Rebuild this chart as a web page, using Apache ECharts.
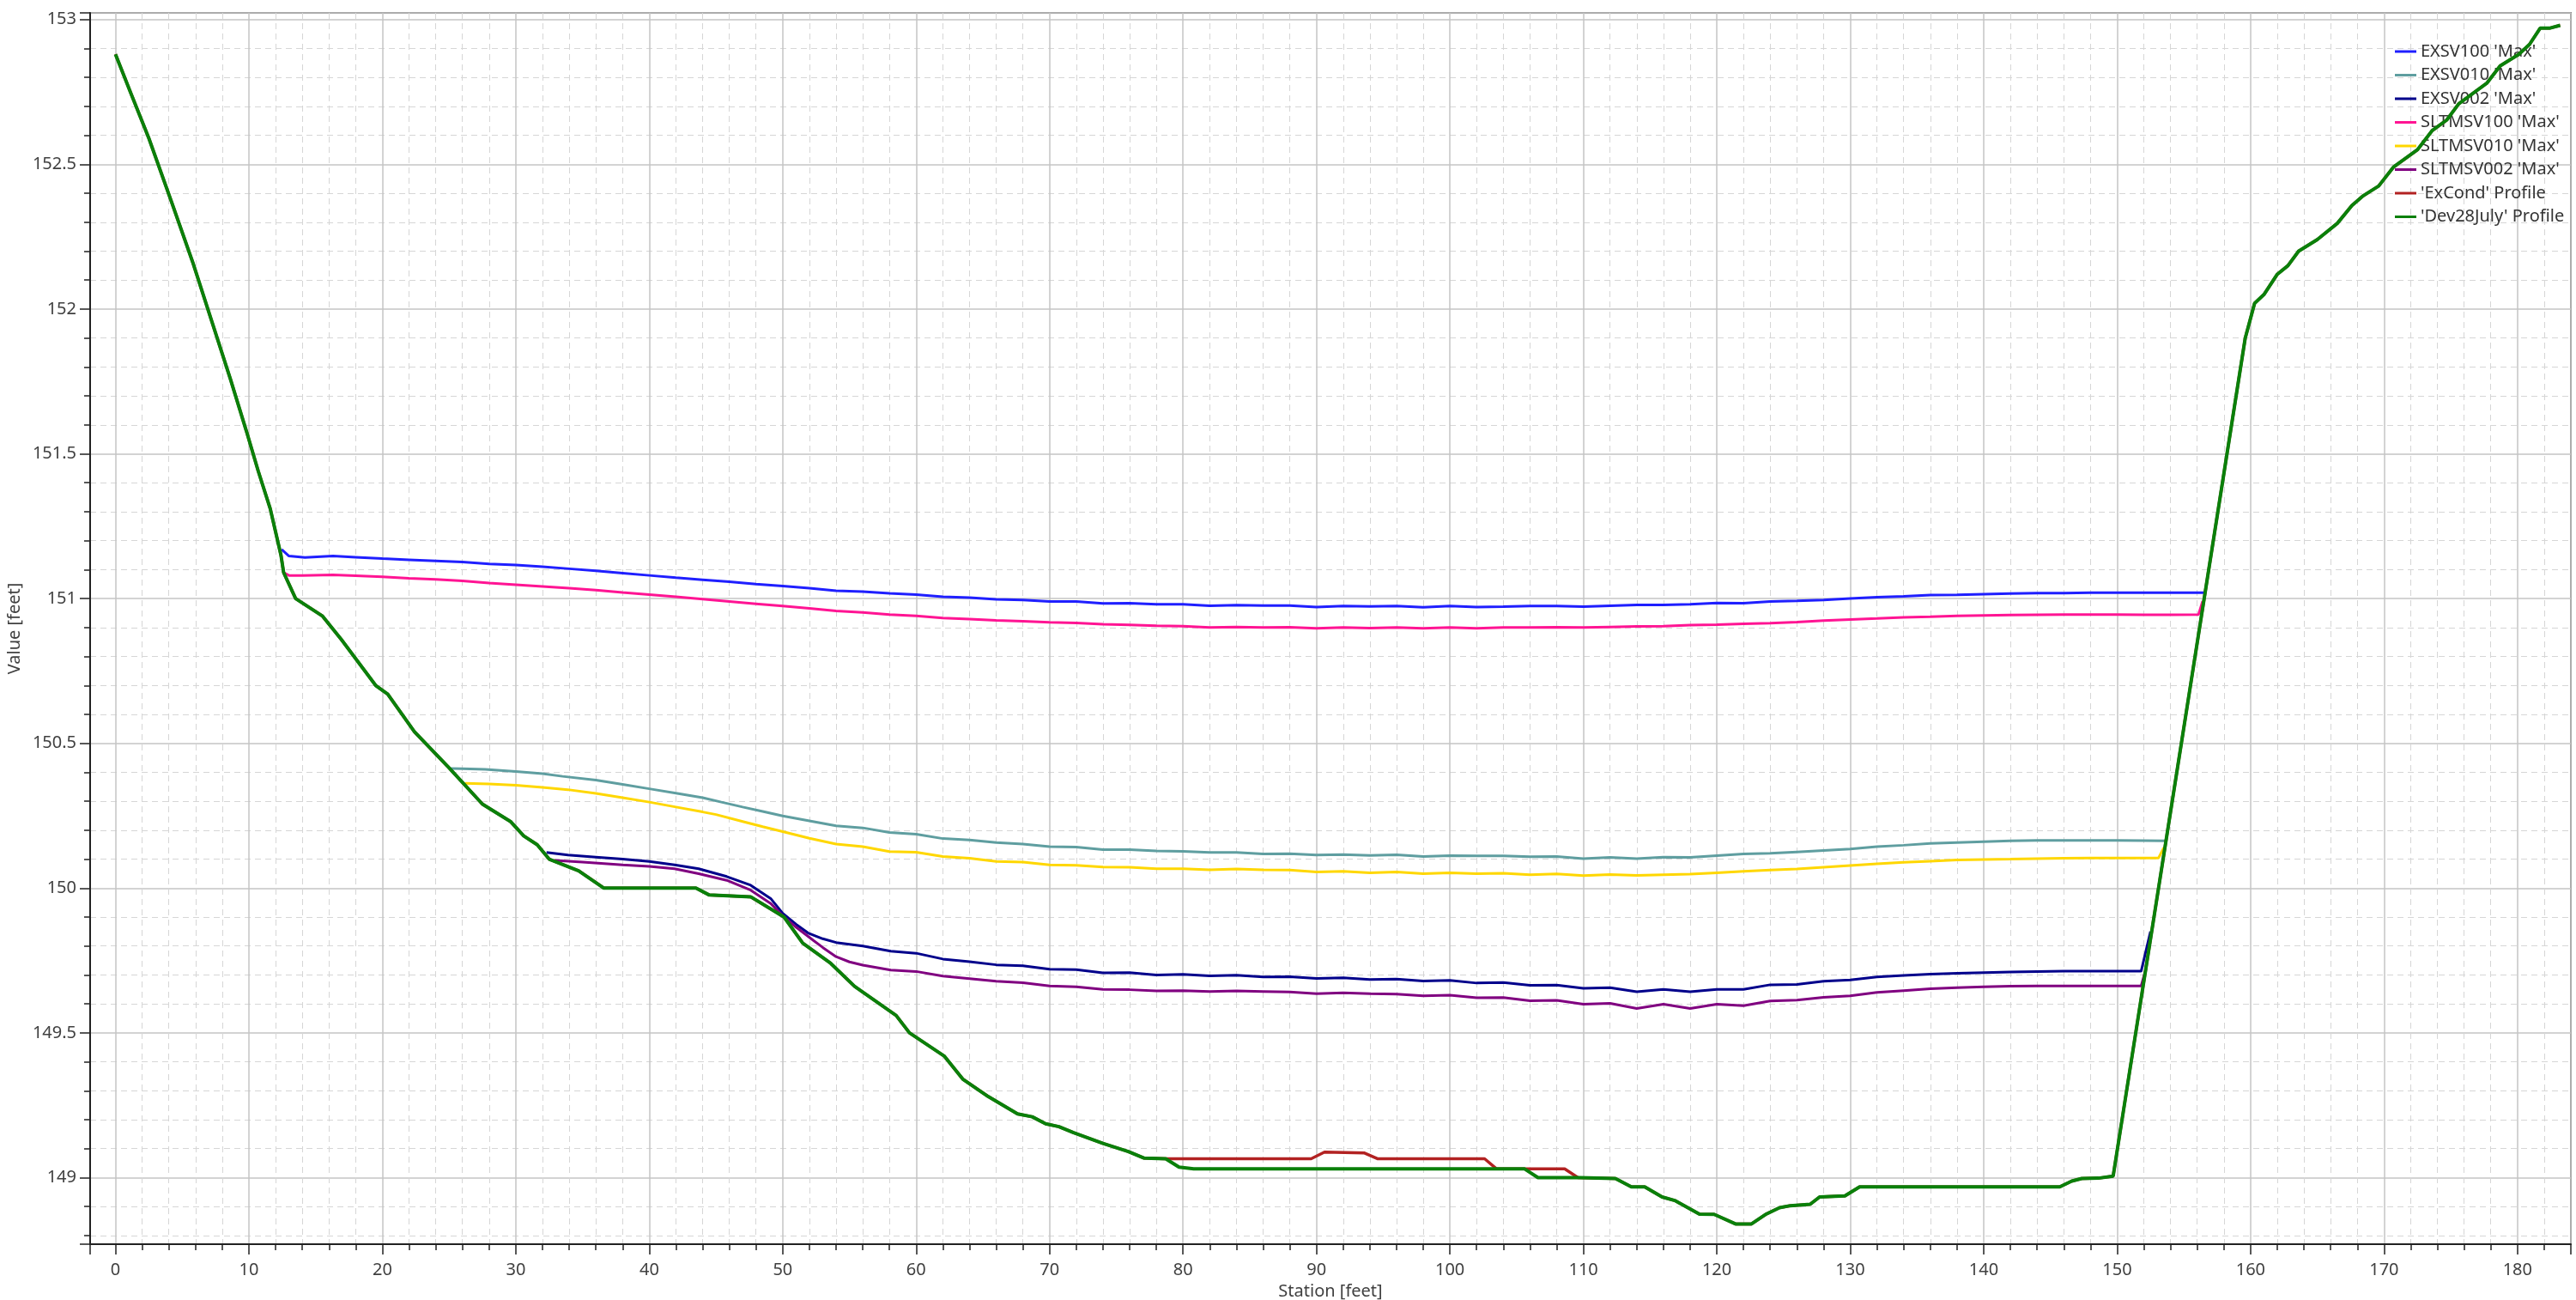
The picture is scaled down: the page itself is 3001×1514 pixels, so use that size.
<!DOCTYPE html>
<html>
<head>
<meta charset="utf-8">
<script src="https://cdn.jsdelivr.net/npm/echarts/dist/echarts.min.js"></script>
<style>
  html, body { margin: 0; padding: 0; background: #ffffff; }
  #chart { width: 3001px; height: 1514px; }
</style>
</head>
<body>
<div id="chart"></div>
<script>
// ---- data (station [ft], value [ft]) ----
const seriesNames = ["EXSV100 'Max'", "EXSV010 'Max'", "EXSV002 'Max'", "SLTMSV100 'Max'", "SLTMSV010 'Max'", "SLTMSV002 'Max'", "'ExCond' Profile", "'Dev28July' Profile"];

const exsv100 = [[12.45,151.17],[13,151.147],[14.2,151.142],[16.3,151.147],[18,151.143],[20,151.138],[22,151.134],[24,151.13],[26,151.126],[28,151.12],[30,151.116],[32,151.11],[34,151.103],[36,151.096],[38,151.088],[40,151.08],[42,151.072],[44,151.065],[46,151.058],[48,151.05],[50,151.043],[52,151.036],[54,151.027],[56,151.024],[58,151.018],[60,151.014],[62,151.006],[64,151.003],[66,150.997],[68,150.995],[70,150.99],[72,150.99],[74,150.983],[76,150.984],[78,150.98],[80,150.98],[82,150.975],[84,150.977],[86,150.976],[88,150.976],[90,150.971],[92,150.974],[94,150.973],[96,150.974],[98,150.970],[100,150.974],[102,150.971],[104,150.972],[106,150.974],[108,150.974],[110,150.972],[112,150.975],[114,150.978],[116,150.978],[118,150.98],[120,150.985],[122,150.984],[124,150.99],[126,150.992],[128,150.995],[130,151.0],[132,151.005],[134,151.008],[136,151.012],[138,151.013],[140,151.015],[142,151.017],[144,151.019],[146,151.019],[148,151.02],[150,151.02],[152,151.02],[154,151.02],[156.6,151.02]];

const exsv010 = [[25.1,150.413],[26,150.412],[27.7,150.41],[30,150.403],[32,150.395],[33.5,150.386],[36,150.373],[38,150.358],[40,150.343],[42,150.328],[44,150.312],[45.4,150.297],[47,150.28],[48.5,150.265],[50,150.249],[52,150.232],[54,150.215],[56,150.208],[58,150.192],[60,150.186],[62,150.171],[64,150.166],[66,150.157],[68,150.152],[70,150.143],[72,150.142],[74,150.133],[76,150.133],[78,150.128],[80,150.127],[82,150.123],[84,150.123],[86,150.118],[88,150.119],[90,150.114],[92,150.116],[94,150.113],[96,150.115],[98,150.109],[100,150.112],[102,150.111],[104,150.111],[106,150.108],[108,150.109],[110,150.102],[112,150.106],[114,150.102],[116,150.107],[118,150.106],[120,150.112],[122,150.118],[124,150.12],[126,150.125],[128,150.13],[130,150.135],[132,150.143],[134,150.148],[136,150.154],[138,150.157],[140,150.16],[142,150.163],[144,150.165],[146,150.165],[148,150.165],[150,150.165],[152,150.164],[153.6,150.163]];

const exsv002 = [[32.3,150.123],[33.9,150.114],[36,150.107],[38,150.1],[40,150.092],[41.9,150.08],[43.7,150.067],[45.8,150.04],[47.6,150.01],[49.1,149.964],[50,149.913],[51,149.875],[51.9,149.845],[53,149.825],[54,149.812],[56,149.8],[58.1,149.782],[60,149.775],[62,149.755],[64,149.746],[66,149.735],[68,149.732],[70,149.72],[72,149.718],[74,149.707],[76,149.708],[78,149.70],[80,149.702],[82,149.697],[84,149.699],[86,149.693],[88,149.694],[90,149.688],[92,149.69],[94,149.684],[96,149.686],[98,149.679],[100,149.681],[102,149.672],[104,149.674],[106,149.664],[108,149.665],[110,149.654],[112,149.656],[114,149.642],[116,149.65],[118,149.642],[120,149.65],[122,149.65],[124,149.666],[126,149.667],[128,149.678],[130,149.683],[132,149.693],[134,149.698],[136,149.703],[138,149.706],[140,149.708],[142,149.71],[144,149.712],[146,149.713],[148,149.713],[150,149.713],[151.8,149.713],[152.5,149.85]];

const sltmsv100 = [[12.6,151.09],[13,151.08],[14,151.08],[16.3,151.082],[18,151.079],[20,151.075],[22,151.07],[24,151.066],[26,151.061],[28,151.054],[30,151.048],[32,151.042],[34,151.036],[36,151.029],[38,151.021],[40,151.014],[42,151.006],[44,150.998],[46,150.99],[48,150.982],[50,150.974],[52,150.966],[54,150.957],[56,150.952],[58,150.945],[60,150.94],[62,150.933],[64,150.929],[66,150.925],[68,150.922],[70,150.918],[72,150.916],[74,150.911],[76,150.909],[78,150.906],[80,150.905],[82,150.90],[84,150.902],[86,150.90],[88,150.901],[90,150.897],[92,150.9],[94,150.898],[96,150.9],[98,150.897],[100,150.9],[102,150.897],[104,150.9],[106,150.9],[108,150.901],[110,150.9],[112,150.902],[114,150.904],[116,150.905],[118,150.908],[120,150.91],[122,150.913],[124,150.915],[126,150.919],[128,150.924],[130,150.928],[132,150.931],[134,150.935],[136,150.937],[138,150.94],[140,150.942],[142,150.943],[144,150.944],[146,150.945],[148,150.945],[150,150.945],[152,150.944],[154,150.944],[156.1,150.945],[156.4,150.99]];

const sltmsv010 = [[26.2,150.362],[28,150.36],[30,150.355],[32,150.348],[33.9,150.34],[36,150.327],[38,150.312],[40,150.297],[42,150.28],[44,150.263],[45,150.254],[47,150.23],[48.5,150.212],[50,150.195],[52,150.172],[54,150.152],[56,150.143],[58,150.126],[60,150.124],[62,150.109],[64,150.103],[66,150.092],[68,150.09],[70,150.08],[72,150.079],[74,150.073],[76,150.072],[78,150.067],[80,150.067],[82,150.063],[84,150.066],[86,150.063],[88,150.062],[90,150.056],[92,150.058],[94,150.053],[96,150.056],[98,150.05],[100,150.053],[102,150.05],[104,150.051],[106,150.046],[108,150.049],[110,150.043],[112,150.047],[114,150.044],[116,150.046],[118,150.048],[120,150.053],[122,150.058],[124,150.062],[126,150.066],[128,150.072],[130,150.078],[132,150.084],[134,150.089],[136,150.093],[138,150.097],[140,150.099],[142,150.1],[144,150.102],[146,150.103],[148,150.104],[150,150.104],[152,150.104],[153.1,150.104],[153.5,150.14]];

const sltmsv002 = [[32.9,150.096],[35,150.09],[38,150.08],[40,150.075],[41.9,150.067],[43.7,150.05],[45.8,150.027],[47.6,149.993],[49.1,149.947],[50,149.904],[51,149.865],[52.3,149.819],[53,149.795],[54,149.763],[55,149.745],[56,149.734],[58.1,149.717],[60,149.712],[62,149.696],[64,149.687],[66,149.678],[68,149.673],[70,149.662],[72,149.659],[74,149.65],[76,149.649],[78,149.645],[80,149.646],[82,149.643],[84,149.645],[86,149.643],[88,149.641],[90,149.635],[92,149.638],[94,149.635],[96,149.634],[98,149.628],[100,149.63],[102,149.621],[104,149.622],[106,149.611],[108,149.612],[110,149.599],[112,149.602],[114,149.584],[116,149.599],[118,149.584],[120,149.599],[122,149.594],[124,149.61],[126,149.613],[128,149.623],[130,149.628],[132,149.64],[134,149.646],[136,149.652],[138,149.656],[140,149.659],[142,149.661],[144,149.662],[146,149.662],[148,149.662],[150,149.662],[151.8,149.662],[152.15,149.72]];

const exCondProfile = [[0,152.88],[1.2,152.74],[2.5,152.59],[4.2,152.37],[5.8,152.16],[7.2,151.96],[8.6,151.76],[9.8,151.58],[10.7,151.44],[11.6,151.31],[12.4,151.15],[12.6,151.09],[13.5,151.0],[15.5,150.94],[16.9,150.86],[19.5,150.70],[20.4,150.67],[22.4,150.54],[24.9,150.42],[26.1,150.36],[27.5,150.29],[29.6,150.23],[30.6,150.18],[31.6,150.15],[32.5,150.10],[34.7,150.06],[36.6,150.0],[43.5,150.0],[44.5,149.976],[47.6,149.97],[50.1,149.90],[51.5,149.81],[53.6,149.74],[55.4,149.66],[58.5,149.56],[59.5,149.5],[62.1,149.42],[63.5,149.34],[65.4,149.28],[67.6,149.22],[68.7,149.21],[69.7,149.186],[70.7,149.176],[71.8,149.155],[74,149.118],[75.9,149.09],[77.1,149.067],[78.7,149.065],[89.6,149.065],[90.6,149.088],[93.6,149.085],[94.6,149.065],[102.6,149.065],[103.5,149.03],[108.6,149.03],[109.6,149.0],[112.4,148.997],[113.6,148.968],[114.6,148.968],[115.9,148.933],[116.9,148.92],[118.7,148.874],[119.8,148.873],[121.4,148.84],[122.6,148.84],[123.7,148.874],[124.7,148.896],[125.5,148.903],[127,148.908],[127.7,148.933],[129.6,148.937],[130.7,148.968],[145.7,148.968],[146.6,148.988],[147.35,148.997],[148.6,148.998],[149.7,149.005],[159.6,151.9],[160.3,152.02],[161,152.05],[162,152.12],[162.8,152.15],[163.6,152.2],[165,152.24],[166.5,152.296],[167.6,152.358],[168.4,152.39],[169.6,152.425],[170.7,152.49],[172.5,152.55],[173.6,152.616],[174.7,152.653],[175.6,152.709],[177.7,152.78],[178.7,152.84],[180.1,152.88],[180.9,152.914],[181.7,152.97],[182.4,152.97],[183.2,152.98]];

const dev28JulyProfile = [[0,152.88],[1.2,152.74],[2.5,152.59],[4.2,152.37],[5.8,152.16],[7.2,151.96],[8.6,151.76],[9.8,151.58],[10.7,151.44],[11.6,151.31],[12.4,151.15],[12.6,151.09],[13.5,151.0],[15.5,150.94],[16.9,150.86],[19.5,150.70],[20.4,150.67],[22.4,150.54],[24.9,150.42],[26.1,150.36],[27.5,150.29],[29.6,150.23],[30.6,150.18],[31.6,150.15],[32.5,150.10],[34.7,150.06],[36.6,150.0],[43.5,150.0],[44.5,149.976],[47.6,149.97],[50.1,149.90],[51.5,149.81],[53.6,149.74],[55.4,149.66],[58.5,149.56],[59.5,149.5],[62.1,149.42],[63.5,149.34],[65.4,149.28],[67.6,149.22],[68.7,149.21],[69.7,149.186],[70.7,149.176],[71.8,149.155],[74,149.118],[75.9,149.09],[77.1,149.067],[78.7,149.065],[79.7,149.036],[80.8,149.03],[105.6,149.03],[106.6,149.0],[109.7,149.0],[112.4,148.997],[113.6,148.968],[114.6,148.968],[115.9,148.933],[116.9,148.92],[118.7,148.874],[119.8,148.873],[121.4,148.84],[122.6,148.84],[123.7,148.874],[124.7,148.896],[125.5,148.903],[127,148.908],[127.7,148.933],[129.6,148.937],[130.7,148.968],[145.7,148.968],[146.6,148.988],[147.35,148.997],[148.6,148.998],[149.7,149.005],[159.6,151.9],[160.3,152.02],[161,152.05],[162,152.12],[162.8,152.15],[163.6,152.2],[165,152.24],[166.5,152.296],[167.6,152.358],[168.4,152.39],[169.6,152.425],[170.7,152.49],[172.5,152.55],[173.6,152.616],[174.7,152.653],[175.6,152.709],[177.7,152.78],[178.7,152.84],[180.1,152.88],[180.9,152.914],[181.7,152.97],[182.4,152.97],[183.2,152.98]];

const seriesData = [exsv100, exsv010, exsv002, sltmsv100, sltmsv010, sltmsv002, exCondProfile, dev28JulyProfile];
const seriesColors = ['#1f1fff', '#5f9ea0', '#00008b', '#ff1493', '#ffd700', '#800080', '#b22222', '#0a800a'];
const seriesWidths = [3, 3, 3, 3, 3, 3, 3.5, 4];

const xAxisName = 'Station [feet]';
const yAxisName = 'Value [feet]';
const xRange = [-1.9, 184.0];
const yRange = [148.77, 153.023];

const FONT = "'Noto Sans', 'Open Sans', sans-serif";
const chart = echarts.init(document.getElementById('chart'), null, { renderer: 'canvas' });

const axisCommon = {
  type: 'value',
  scale: true,
  nameLocation: 'middle',
  nameTextStyle: { fontFamily: FONT, fontSize: 20, color: '#404040' },
  axisLine: { show: true, onZero: false, lineStyle: { color: '#222', width: 2 } },
  axisTick: { show: true, inside: false, length: 12, lineStyle: { color: '#222', width: 1.5 } },
  minorTick: { show: true, splitNumber: 5, length: 7, lineStyle: { color: '#222', width: 1.5 } },
  axisLabel: { fontFamily: FONT, fontSize: 20, color: '#404040', showMinLabel: false, showMaxLabel: false },
  splitLine: { show: true, lineStyle: { color: '#c4c4c4', width: 1.5 } },
  minorSplitLine: { show: true, lineStyle: { color: '#d6d6d6', width: 1, type: [7, 5] } }
};

const option = {
  animation: false,
  backgroundColor: '#ffffff',
  grid: { left: 105, top: 15, right: 6, bottom: 65, show: true, borderColor: '#333', borderWidth: 1.5, backgroundColor: 'transparent', containLabel: false, outerBoundsMode: 'none' },
  legend: {
    orient: 'vertical',
    left: 2785,
    top: 45,
    icon: 'rect',
    itemWidth: 25,
    itemHeight: 3,
    itemGap: 7.5,
    textStyle: { fontFamily: FONT, fontSize: 20, color: '#333', lineHeight: 20 },
    data: seriesNames
  },
  xAxis: Object.assign({}, axisCommon, {
    min: xRange[0], max: xRange[1], splitNumber: 18,
    name: xAxisName, nameGap: 42,
    axisLabel: Object.assign({}, axisCommon.axisLabel, { margin: 20 })
  }),
  yAxis: Object.assign({}, axisCommon, {
    min: yRange[0], max: yRange[1], splitNumber: 8,
    name: yAxisName, nameGap: 50, nameRotate: 90,
    axisLabel: Object.assign({}, axisCommon.axisLabel, { margin: 16 })
  }),
  series: seriesNames.map((name, i) => ({
    name: name,
    type: 'line',
    data: seriesData[i],
    showSymbol: false,
    symbol: 'none',
    color: seriesColors[i],
    lineStyle: { color: seriesColors[i], width: seriesWidths[i] },
    itemStyle: { color: seriesColors[i] },
    z: 2 + i,
    silent: true
  }))
};
chart.setOption(option);
</script>
</body>
</html>
